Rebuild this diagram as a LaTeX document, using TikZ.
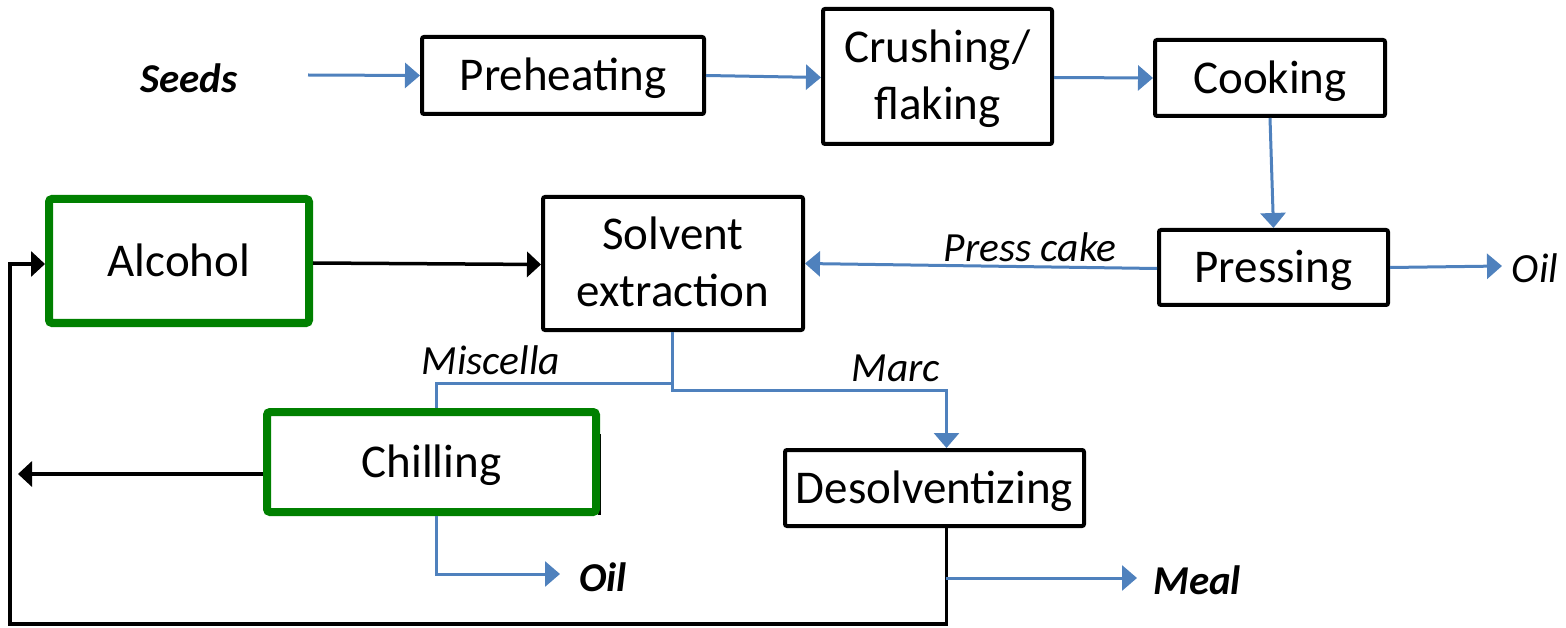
\documentclass[tikz,border=0pt]{standalone}
\usepackage{fontspec}
\setmainfont{Carlito}
\usetikzlibrary{arrows.meta}
\definecolor{flowblue}{HTML}{4F81BD}
\definecolor{boxgreen}{HTML}{008000}
\begin{document}
\begin{tikzpicture}[x=1pt,y=-1pt,
  box/.style={draw=black,line width=4pt,rounded corners=2pt,fill=white,align=center,
    font=\fontsize{47}{57}\selectfont,inner sep=0pt},
  gbox/.style={draw=boxgreen,line width=8pt,rounded corners=3pt,fill=white,align=center,
    font=\fontsize{47}{57}\selectfont,inner sep=0pt},
  one/.style={text height=32pt,text depth=1pt},
  two/.style={text height=88pt,text depth=1pt},
  bl/.style={draw=flowblue,line width=3pt},
  bla/.style={bl,-{Triangle[length=15pt,width=25pt]}},
  blk/.style={draw=black,line width=3.5pt},
  blka/.style={blk,-{Triangle[length=14pt,width=25pt]}},
  lab/.style={font=\fontsize{41.5}{46}\selectfont\itshape,inner sep=0pt},
  blab/.style={font=\fontsize{41}{46}\selectfont\bfseries\itshape,inner sep=0pt}]
\useasboundingbox (0,0) rectangle (1566,628);
% boxes
\node[box,one,minimum width=282pt,minimum height=77pt] (pre) at (563,75.5) {Preheating};
\node[box,two,minimum width=229pt,minimum height=135pt] (cru) at (937.5,76.5) {Crushing/\\flaking};
\node[box,one,minimum width=230pt,minimum height=76pt] (cook) at (1270,78) {Cooking};
\node[box,one,minimum width=229pt,minimum height=75pt] (press) at (1273.5,267.5) {Pressing};
\node[box,two,minimum width=260pt,minimum height=133pt] (solv) at (673,263.5) {Solvent\\extraction};
\node[box,one,minimum width=299pt,minimum height=76pt] (des) at (934.5,488) {Desolventizing};
\node[gbox,one,minimum width=260pt,minimum height=124pt] (alc) at (179,261) {Alcohol};
\draw[black,line width=3pt] (599.5,434) -- (599.5,515);
\node[gbox,one,minimum width=329pt,minimum height=100pt] (chill) at (431.5,462) {Chilling};
% labels
\node[blab] (seeds) at (189,78) {Seeds};
\node[lab] (oil1) at (1535,268) {Oil};
\node[lab] (pcake) at (1030,247) {Press cake};
\node[lab] (misc) at (491,360) {Miscella};
\node[lab] (marc) at (896,368) {Marc};
\node[blab] (oil2) at (603,577) {Oil};
\node[blab] (meal) at (1197,580) {Meal};
% coordinates
\coordinate (s0) at (308,75);
\coordinate (o1) at (1502,266);
\coordinate (sj) at (672,390);
\coordinate (mj) at (672,383);
\coordinate (o2) at (560,574);
\coordinate (ml) at (1137,578);
\coordinate (dj) at (946,578);
\coordinate (lft) at (18,474);
\coordinate (bl) at (10,624);
% connectors
\draw[bla] (s0) -- (pre.west);
\draw[bla] (pre.east) -- ([yshift=-1pt]cru.west);
\draw[bla] ([yshift=-1pt]cru.east) -- (cook.west);
\draw[bla] (cook.south) -- (press.north);
\draw[bla] (press.east) -- (o1);
\draw[bla] ([yshift=-1pt]press.west) -- (solv.east);
\draw[blka] ([yshift=-2pt]alc.east) -- ([yshift=-1pt]solv.west);
\draw[bla] ([xshift=-1pt]solv.south) -- (sj) -| ([xshift=12pt]des.north);
\draw[bl] (mj) -| ([xshift=4.5pt]chill.north);
\draw[bla] ([xshift=4.5pt]chill.south) |- (o2);
\draw[blka] ([yshift=-12pt]chill.west) -- (lft);
\draw[blka] ([xshift=12pt]des.south) |- (bl) |- ([yshift=-3pt]alc.west);
\draw[bla] (dj) -- (ml);
\end{tikzpicture}
\end{document}
